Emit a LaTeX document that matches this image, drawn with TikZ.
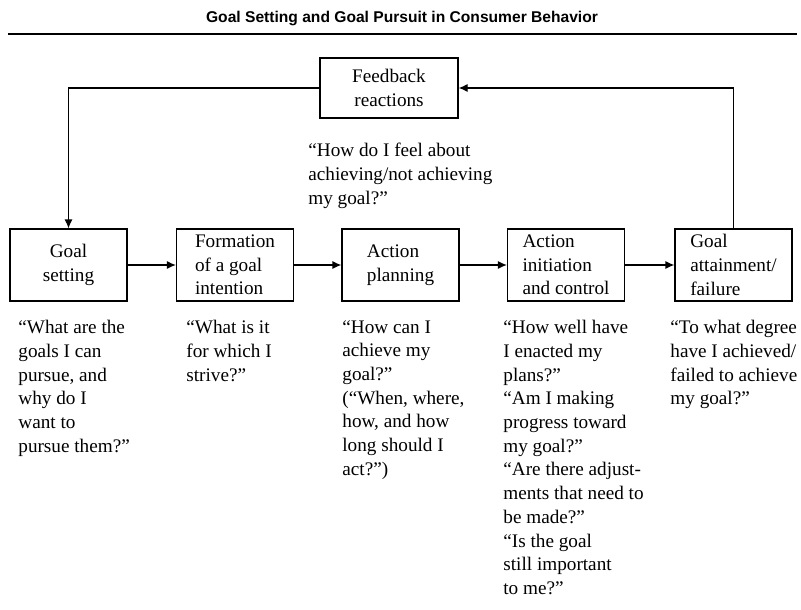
\documentclass[tikz,border=0pt]{standalone}
\usepackage{fontspec}
\setmainfont{Liberation Serif}
\newfontfamily\headfont{Liberation Sans}
\usetikzlibrary{arrows.meta}

\begin{document}
\begin{tikzpicture}[x=0.5pt,y=-0.5pt,
  stage/.style={draw, line width=0.6pt, minimum width=58.5pt, minimum height=36pt, inner sep=1pt, align=left, font=\fontsize{9.6}{11.85}\selectfont},
  quest/.style={anchor=north west, align=left, inner sep=0pt, font=\fontsize{9.6}{11.85}\selectfont},
  flow/.style={line width=0.6pt, -{Latex[length=4.5pt,width=4pt]}}]
\useasboundingbox (0,0) rectangle (801,609);
% heading
\node[font=\headfont\bfseries\fontsize{7.8}{9}\selectfont] (title) at (402,19){Goal Setting and Goal Pursuit in Consumer Behavior};
\draw[line width=1.4pt] (8,34) -- (797,34);
% feedback loop
\node[stage, minimum width=69pt, minimum height=30pt, align=center] (fb) at (389,88){Feedback\\reactions};
\node[quest] (qfb) at (308,143){“How do I feel about\\achieving/not achieving\\my goal?”};
% stages
\node[stage, align=center] (st0) at (68.5,265){Goal\\setting};
\node[stage] (st1) at (235,265){Formation\\of a goal\\intention};
\node[stage] (st2) at (400.5,265){Action\\planning};
\node[stage] (st3) at (566,265){Action\\initiation\\and control};
\node[stage] (st4) at (733.5,265){Goal\\attainment/\\failure};
\draw[flow] (st0) -- (st1);
\draw[flow] (st1) -- (st2);
\draw[flow] (st2) -- (st3);
\draw[flow] (st3) -- (st4);
\draw[flow] (fb.west) -| (st0.north);
\draw[flow] (st4.north) |- (fb.east);
% questions
\node[quest] (q0) at (18,320){“What are the\\goals I can\\pursue, and\\why do I\\want to\\pursue them?”};
\node[quest] (q1) at (186,320){“What is it\\for which I\\strive?”};
\node[quest] (q2) at (342,320){“How can I\\achieve my\\goal?”\\(“When, where,\\how, and how\\long should I\\act?”)};
\node[quest] (q3) at (503,320){“How well have\\I enacted my\\plans?”\\“Am I making\\progress toward\\my goal?”\\“Are there adjust-\\ments that need to\\be made?”\\“Is the goal\\still important\\to me?”};
\node[quest] (q4) at (670,320){“To what degree\\have I achieved/\\failed to achieve\\my goal?”};
\end{tikzpicture}
\end{document}
